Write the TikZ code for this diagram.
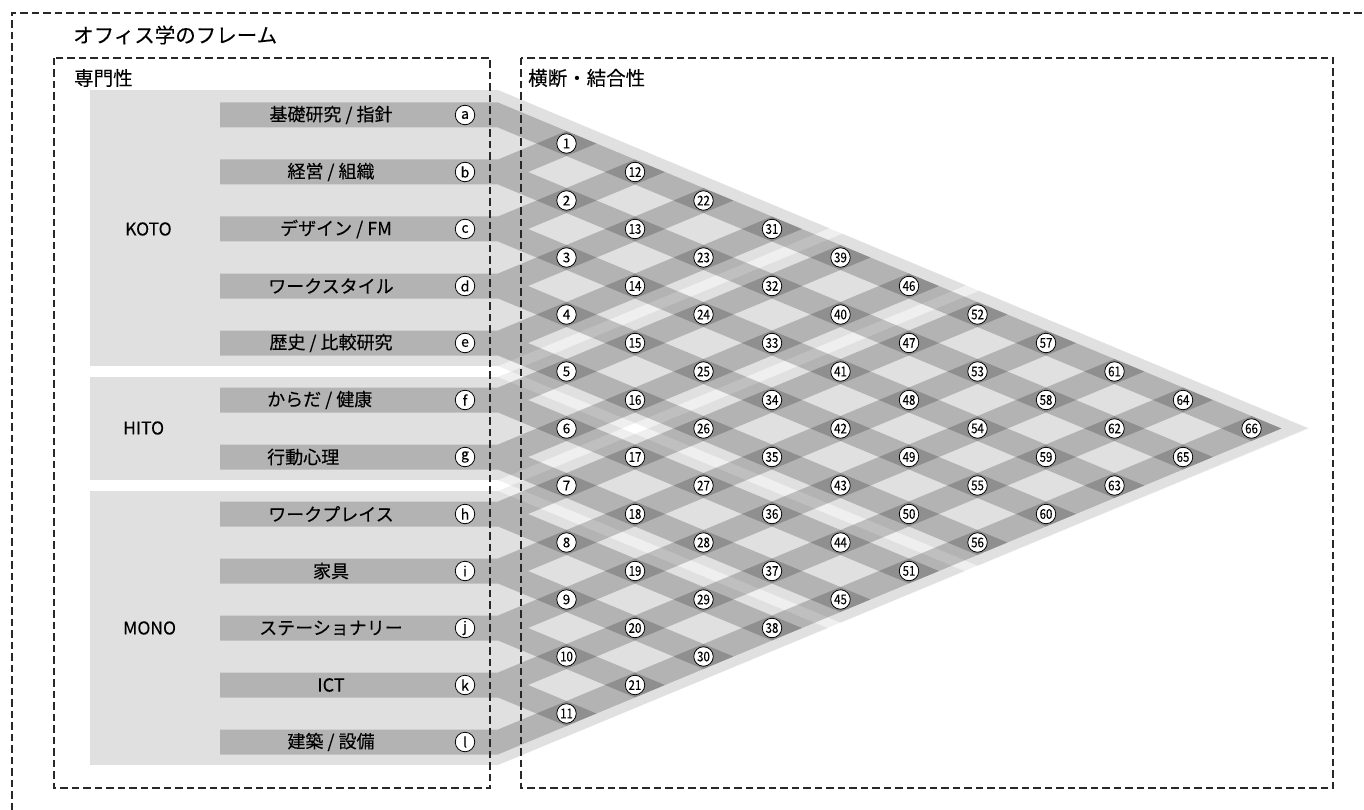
\documentclass[tikz,border=0pt]{standalone}
\usepackage{fontspec}
\setmainfont{Noto Sans CJK JP}[FakeBold=0.15]
\definecolor{lightbg}{RGB}{224,224,224}
\definecolor{framecol}{RGB}{40,40,40}
\begin{document}
\begin{tikzpicture}[x=1pt,y=-1pt,
  frame/.style={draw=framecol, line width=1.3pt, dash pattern=on 7.5pt off 4pt},
  lbl/.style={font=\fontsize{18}{18}\selectfont, inner sep=0pt},
  grp/.style={font=\fontsize{17.5}{17.5}\selectfont, inner sep=0pt, anchor=west},
  head/.style={font=\fontsize{19.5}{19.5}\selectfont, inner sep=0pt, anchor=west},
  letter/.style={circle, draw=black, line width=0.8pt, fill=white, minimum size=19.5pt, inner sep=0pt, font=\fontsize{14}{14}\selectfont},
  num/.style={circle, draw=black, line width=0.8pt, fill=white, minimum size=19.5pt, inner sep=0pt, font=\fontsize{13.5}{13.5}\selectfont},
  lightfan/.style={fill=black, fill opacity=0.063},
  band/.style={fill=black, fill opacity=0.2},
]
\useasboundingbox (0,0) rectangle (1364,810);

% light group backgrounds (left part)
\fill[lightbg] (90,90) rectangle (498,366);
\fill[lightbg] (90,377) rectangle (498,480);
\fill[lightbg] (90,491) rectangle (498,765);

% light group fans
\begin{scope}
\clip (498,90) -- (1309,428.5) -- (498,765) -- cycle;
\fill[lightfan] \foreach \t/\b in {90/366,377/480,491/765}{
  (498,\t) -- (1398,{\t+374.5}) -- (1398,{\b+374.5}) -- (498,\b) -- cycle};
\fill[lightfan] \foreach \t/\b in {90/366,377/480,491/765}{
  (498,\t) -- (1398,{\t-374.5}) -- (1398,{\b-374.5}) -- (498,\b) -- cycle};
\end{scope}

% item bars and their crossing bands
\begin{scope}
\clip (100,-63.1) -- (1281.5,428.5) -- (100,920.1) -- cycle;
\foreach \n in {0,...,11}{
  \pgfmathsetmacro\Y{115+57*\n}
  \fill[band] (220,{\Y-12.5}) -- (498,{\Y-12.5}) -- (498,{\Y+12.5}) -- (220,{\Y+12.5}) -- cycle
    (498,{\Y-12.5}) -- (1398,{\Y-12.5+374.5}) -- (1398,{\Y+12.5+374.5}) -- (498,{\Y+12.5}) -- cycle
    (498,{\Y-12.5}) -- (1398,{\Y-12.5-374.5}) -- (1398,{\Y+12.5-374.5}) -- (498,{\Y+12.5}) -- cycle;
}
\end{scope}

% headings
\node[anchor=west, inner sep=0pt, font=\fontsize{20.5}{20.5}\selectfont] (title) at (73,35) {オフィス学のフレーム};
\node[head] (senmon) at (74,78) {専門性};
\node[head] (oudan) at (528,78) {横断・結合性};

% group labels
\node[grp] (koto) at (125,229) {KOTO};
\node[grp] (hito) at (123,428) {HITO};
\node[grp] (mono) at (123,628) {MONO};

% item labels
\node[lbl] (ta) at (331,115) {基礎研究 / 指針};
\node[lbl] (tb) at (331,172) {経営 / 組織};
\node[lbl] (tc) at (336,229) {デザイン / FM};
\node[lbl] (td) at (331,286) {ワークスタイル};
\node[lbl] (te) at (331,343) {歴史 / 比較研究};
\node[lbl, anchor=west] (tf) at (267,400) {からだ / 健康};
\node[lbl, anchor=west] (tg) at (267,457) {行動心理};
\node[lbl] (th) at (331,514) {ワークプレイス};
\node[lbl] (ti) at (331,571) {家具};
\node[lbl] (tj) at (331,628) {ステーショナリー};
\node[lbl] (tk) at (331,685) {ICT};
\node[lbl] (tl) at (331,742) {建築 / 設備};

% circled letters
\foreach \n/\c in {0/a,1/b,2/c,3/d,4/e,5/f,6/g,7/h,8/i,9/j,10/k,11/l}{
  \node[letter] (l\c) at (465,{115+57*\n}) {\c};
}

% numbered crossing nodes
\foreach \k in {1,...,11}{
  \pgfmathtruncatemacro\m{12-\k}
  \foreach \i in {1,...,\m}{
    \pgfmathtruncatemacro\N{(\k-1)*12-(\k-1)*\k/2+\i}
    \node[num] (n\N) at ({498+68.5*\k},{115+57*(\i-1)+28.5*\k}) {\ifnum\N>9 \scalebox{0.85}[1]{\N}\else\N\fi};
  }
}

% dashed frames
\draw[frame] (12,810) -- (12,13) -- (1364,13);
\draw[frame] (54,58) rectangle (490,788);
\draw[frame] (521,58) rectangle (1333,788);
\end{tikzpicture}
\end{document}
